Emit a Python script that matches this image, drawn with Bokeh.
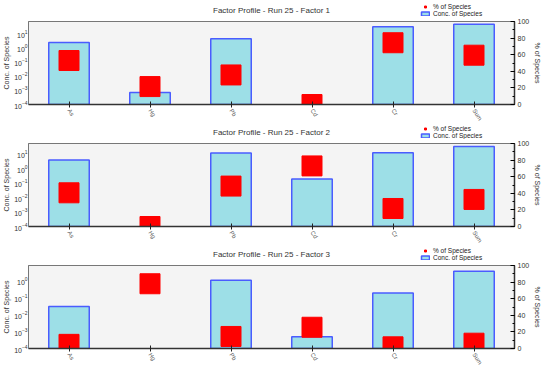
from bokeh.plotting import figure
from bokeh.models import (Range1d, LinearAxis, LinearScale, LogTicker, SingleIntervalTicker,
                          Legend, LegendItem, ColumnDataSource, FactorRange, Label)
from bokeh.layouts import column
from bokeh.embed import file_html
from bokeh.resources import INLINE

nan = float("nan")

species = ["As", "Hg", "Pb", "Cd", "Cr", "Sum"]
titles = ["Factor Profile - Run 25 - Factor 1",
          "Factor Profile - Run 25 - Factor 2",
          "Factor Profile - Run 25 - Factor 3"]

# concentration of species (log axis); nan = no bar visible
conc_f1 = [2.3, 7e-4, 4.2, nan, 30, 45]
conc_f2 = [3.9, nan, 11.7, 0.19, 12.6, 33]
conc_f3 = [0.031, nan, 1.15, 5e-4, 0.2, 3.9]

# % of species (right axis)
pct_f1 = [53, 21.6, 35.6, 0, 74.4, 59.4]
pct_f2 = [40.6, 0, 48.7, 73, 21.7, 32.6]
pct_f3 = [5, 78, 14.5, 25.6, 2, 6.4]

log_top = [70, 54, 8.5]

FONT = "Liberation Sans"
FW, FH = 486, 83
HEADER_H = [17, 13, 13]
BAR_FILL, BAR_LINE = "#9ddfe7", "#4a5cff"
SQ_COLOR = "#ff0000"


def header(title, hh):
    h = figure(frame_width=FW, frame_height=hh, x_range=Range1d(0, 1), y_range=Range1d(0, 1),
               output_backend="svg", toolbar_location=None, min_border=0,
               outline_line_color=None, background_fill_color="white", border_fill_color="white")
    h.axis.visible = False
    h.grid.visible = False
    h.add_layout(Label(x=0.5, y=3, y_units="screen", text=title,
                       text_font=FONT, text_font_size="8px", text_color="#333333",
                       text_align="center", text_baseline="bottom"))
    proxy = ColumnDataSource(dict(x=[nan], y=[nan]))   # legend swatches only
    s = h.scatter(x="x", y="y", source=proxy, marker="square", size=6,
                  fill_color=SQ_COLOR, line_color=SQ_COLOR)
    b = h.vbar(x="x", top="y", width=0.1, source=proxy,
               fill_color=BAR_FILL, line_color=BAR_LINE, line_width=1.5)
    leg = Legend(items=[LegendItem(label="% of Species", renderers=[s]),
                        LegendItem(label="Conc. of Species", renderers=[b])],
                 location=(FW - 66, 0), orientation="vertical",
                 background_fill_alpha=0, border_line_alpha=0,
                 label_text_font=FONT, label_text_font_size="6.5px", label_text_color="#222222",
                 glyph_width=10, glyph_height=5, label_height=6, label_standoff=3,
                 spacing=0, padding=0, margin=0)
    h.add_layout(leg, "center")
    return h


def panel(conc, pct, ytop):
    p = figure(x_range=FactorRange(*species), y_axis_type="log",
               y_range=Range1d(1e-4, ytop),
               frame_width=FW, frame_height=FH,
               output_backend="svg", toolbar_location=None,
               min_border_top=4, min_border_left=0, min_border_right=0, min_border_bottom=0,
               background_fill_color="#f4f4f4", border_fill_color="white",
               outline_line_color="#777777")
    p.xgrid.visible = False
    p.ygrid.visible = False

    p.extra_y_ranges = {"pct": Range1d(0, 100)}
    p.extra_y_scales = {"pct": LinearScale()}

    src = ColumnDataSource(dict(x=species, conc=conc, pct=pct, bottom=[1e-6] * len(species)))
    p.vbar(x="x", top="conc", bottom="bottom", width=0.5, source=src,
           fill_color=BAR_FILL, line_color=BAR_LINE, line_width=1.5)
    p.scatter(x="x", y="pct", source=src, y_range_name="pct", marker="square",
              size=20, fill_color=SQ_COLOR, line_color=SQ_COLOR)

    # left log axis
    ya = p.yaxis[0]
    ya.ticker = LogTicker(desired_num_ticks=8, num_minor_ticks=0)
    ya.axis_label = "Conc. of Species"
    ya.axis_label_text_font = FONT
    ya.axis_label_text_font_size = "7px"
    ya.axis_label_text_font_style = "normal"
    ya.axis_label_text_color = "#333333"
    ya.axis_label_standoff = 1
    ya.major_label_text_font = FONT
    ya.major_label_text_font_size = "7px"
    ya.major_label_text_color = "#333333"
    ya.major_label_standoff = 1
    ya.major_tick_in = 0
    ya.major_tick_out = 0
    ya.minor_tick_in = 0
    ya.minor_tick_out = 0
    ya.axis_line_color = "#777777"

    # bottom axis
    xa = p.xaxis[0]
    xa.major_label_orientation = -1.0
    xa.major_label_text_font = FONT
    xa.major_label_text_font_size = "6px"
    xa.major_label_text_color = "#555555"
    xa.major_label_standoff = 2
    xa.major_tick_in = 3
    xa.major_tick_out = 3
    xa.major_tick_line_color = "#222222"
    xa.axis_line_color = "#333333"
    xa.axis_line_width = 1.5

    # right percentage axis
    ra = LinearAxis(y_range_name="pct", ticker=SingleIntervalTicker(interval=20, num_minor_ticks=2))
    ra.axis_label = "% of Species"
    ra.axis_label_text_font = FONT
    ra.axis_label_text_font_size = "7px"
    ra.axis_label_text_font_style = "normal"
    ra.axis_label_text_color = "#333333"
    ra.axis_label_standoff = 2
    ra.major_label_text_font = FONT
    ra.major_label_text_font_size = "7px"
    ra.major_label_text_color = "#333333"
    ra.major_label_standoff = 3
    ra.major_tick_in = 4
    ra.major_tick_out = 0
    ra.minor_tick_in = 2
    ra.minor_tick_out = 0
    ra.axis_line_color = "#333333"
    ra.axis_line_width = 1.5
    p.add_layout(ra, "right")
    return p


items = []
for t, c, pc, top, hh in [(titles[0], conc_f1, pct_f1, log_top[0], HEADER_H[0]),
                          (titles[1], conc_f2, pct_f2, log_top[1], HEADER_H[1]),
                          (titles[2], conc_f3, pct_f3, log_top[2], HEADER_H[2])]:
    items.append(header(t, hh))
    items.append(panel(c, pc, top))

layout = column(*items, spacing=0)
open("out.html", "w").write(file_html(layout, INLINE))
